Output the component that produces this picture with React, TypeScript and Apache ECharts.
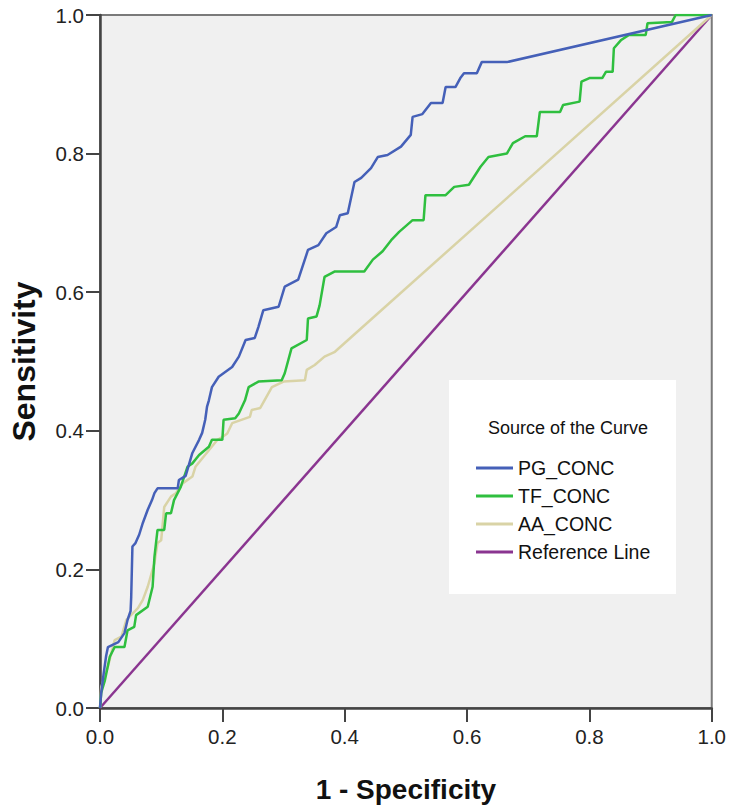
import React, { useEffect, useRef } from "react";
import * as echarts from "echarts";

const seriesNames = ["PG_CONC", "TF_CONC", "AA_CONC", "Reference Line"];
const seriesColors = ["#4560b8", "#2fbf3f", "#d9d3a6", "#8a3590"];

const pgConc: number[][] = [
  [0, 0], [0.002, 0.022], [0.006, 0.05], [0.01, 0.075], [0.013, 0.088], [0.03, 0.095],
  [0.04, 0.108], [0.045, 0.127], [0.05, 0.14], [0.051, 0.16], [0.053, 0.233], [0.058, 0.238],
  [0.064, 0.25], [0.07, 0.267], [0.078, 0.286], [0.085, 0.3], [0.089, 0.31], [0.094, 0.317],
  [0.127, 0.317], [0.129, 0.329], [0.14, 0.335], [0.146, 0.353], [0.151, 0.368], [0.162, 0.387],
  [0.167, 0.397], [0.172, 0.416], [0.175, 0.435], [0.178, 0.444], [0.183, 0.463], [0.194, 0.478],
  [0.216, 0.492], [0.227, 0.507], [0.238, 0.531], [0.253, 0.534], [0.259, 0.55], [0.267, 0.574],
  [0.292, 0.579], [0.302, 0.608], [0.324, 0.618], [0.34, 0.661], [0.357, 0.668], [0.37, 0.685],
  [0.386, 0.694], [0.392, 0.711], [0.405, 0.714], [0.416, 0.759], [0.427, 0.765], [0.443, 0.779],
  [0.454, 0.795], [0.47, 0.798], [0.492, 0.81], [0.508, 0.827], [0.511, 0.853], [0.527, 0.857],
  [0.541, 0.873], [0.56, 0.873], [0.565, 0.896], [0.581, 0.896], [0.589, 0.909], [0.595, 0.916],
  [0.616, 0.916], [0.624, 0.932], [0.665, 0.932], [1, 1],
];

const tfConc: number[][] = [
  [0, 0], [0.002, 0.022], [0.008, 0.04], [0.016, 0.074], [0.024, 0.088], [0.04, 0.088],
  [0.045, 0.112], [0.056, 0.117], [0.059, 0.134], [0.078, 0.146], [0.086, 0.175], [0.089, 0.218],
  [0.094, 0.257], [0.105, 0.257], [0.108, 0.281], [0.116, 0.281], [0.121, 0.3], [0.132, 0.319],
  [0.143, 0.348], [0.151, 0.353], [0.162, 0.365], [0.178, 0.377], [0.183, 0.387], [0.2, 0.387],
  [0.202, 0.416], [0.221, 0.418], [0.227, 0.425], [0.237, 0.444], [0.243, 0.463], [0.259, 0.471],
  [0.297, 0.473], [0.302, 0.483], [0.313, 0.519], [0.338, 0.531], [0.34, 0.562], [0.354, 0.565],
  [0.359, 0.581], [0.367, 0.622], [0.384, 0.63], [0.432, 0.63], [0.446, 0.647], [0.462, 0.659],
  [0.476, 0.675], [0.489, 0.687], [0.511, 0.704], [0.529, 0.704], [0.532, 0.74], [0.565, 0.74],
  [0.579, 0.752], [0.603, 0.755], [0.622, 0.781], [0.635, 0.795], [0.665, 0.8], [0.675, 0.815],
  [0.695, 0.825], [0.714, 0.825], [0.719, 0.86], [0.752, 0.86], [0.757, 0.87], [0.784, 0.875],
  [0.787, 0.904], [0.8, 0.909], [0.821, 0.909], [0.827, 0.918], [0.838, 0.918], [0.84, 0.952],
  [0.852, 0.964], [0.864, 0.971], [0.892, 0.971], [0.895, 0.988], [0.935, 0.99], [0.941, 1],
  [1, 1],
];

const aaConc: number[][] = [
  [0, 0], [0.002, 0.03], [0.013, 0.06], [0.024, 0.098], [0.035, 0.103], [0.043, 0.127],
  [0.062, 0.144], [0.07, 0.156], [0.078, 0.175], [0.089, 0.209], [0.094, 0.238], [0.1, 0.242],
  [0.105, 0.29], [0.116, 0.305], [0.124, 0.31], [0.135, 0.324], [0.151, 0.334], [0.156, 0.348],
  [0.167, 0.36], [0.192, 0.387], [0.2, 0.391], [0.208, 0.396], [0.216, 0.411], [0.245, 0.42],
  [0.248, 0.43], [0.262, 0.433], [0.281, 0.463], [0.3, 0.471], [0.335, 0.473], [0.338, 0.488],
  [0.351, 0.495], [0.367, 0.507], [0.384, 0.514], [1, 1],
];

const referenceLine: number[][] = [
  [0, 0], [1, 1],
];

const seriesData = [pgConc, tfConc, aaConc, referenceLine];

const xTitle = "1 - Specificity";
const yTitle = "Sensitivity";
const legendTitle = "Source of the Curve";

export default function App() {
  const ref = useRef<HTMLDivElement>(null);
  useEffect(() => {
    if (!ref.current) return;
    const chart = echarts.init(ref.current, undefined, { renderer: "svg" });
    const font = "Liberation Sans, Arial, sans-serif";
    chart.setOption({
      animation: false,
      textStyle: { fontFamily: font },
      grid: {
        left: 97,
        right: 16,
        top: 15,
        bottom: 103,
        show: true,
        backgroundColor: "#f0f0f0",
        borderColor: "#7a7a7a",
        borderWidth: 2,
      },
      xAxis: {
        type: "value",
        min: 0,
        max: 1,
        interval: 0.2,
        name: xTitle,
        nameLocation: "middle",
        nameGap: 67,
        nameTextStyle: { fontSize: 28, fontWeight: "bold", color: "#111", fontFamily: font },
        axisLine: { show: true, onZero: false, lineStyle: { color: "#444", width: 2.5 } },
        axisTick: { show: true, length: 14, lineStyle: { color: "#444", width: 2 } },
        axisLabel: {
          margin: 18,
          fontSize: 20.5,
          color: "#222",
          fontFamily: font,
          formatter: (v: number) => v.toFixed(1),
        },
        splitLine: { show: false },
      },
      yAxis: {
        type: "value",
        min: 0,
        max: 1,
        interval: 0.2,
        name: yTitle,
        nameLocation: "middle",
        nameGap: 60,
        nameTextStyle: { fontSize: 32, fontWeight: "bold", color: "#111", fontFamily: font },
        axisLine: { show: true, onZero: false, lineStyle: { color: "#444", width: 2.5 } },
        axisTick: { show: true, length: 14, lineStyle: { color: "#444", width: 2 } },
        axisLabel: {
          margin: 16,
          fontSize: 20.5,
          color: "#222",
          fontFamily: font,
          formatter: (v: number) => v.toFixed(1),
        },
        splitLine: { show: false },
      },
      legend: {
        orient: "vertical",
        left: 476,
        top: 454,
        icon: "rect",
        itemWidth: 37,
        itemHeight: 3,
        itemGap: 0,
        padding: 0,
        data: seriesNames,
        textStyle: { fontSize: 19.5, color: "#111", lineHeight: 28, fontFamily: font },
      },
      graphic: [
        {
          type: "rect",
          left: 449,
          top: 380,
          z: 0,
          zlevel: 0,
          shape: { width: 227, height: 214 },
          style: { fill: "#ffffff" },
        },
        {
          type: "text",
          x: 568,
          y: 428,
          z: 10,
          style: {
            text: legendTitle,
            fill: "#111",
            fontSize: 18,
            fontFamily: font,
            align: "center",
            verticalAlign: "middle",
          },
        },
      ],
      series: seriesNames.map((name, i) => ({
        name,
        type: "line",
        data: seriesData[i],
        showSymbol: false,
        symbol: "none",
        z: 5 - i,
        lineStyle: { color: seriesColors[i], width: 2.5 },
        itemStyle: { color: seriesColors[i] },
      })),
    });
    return () => chart.dispose();
  }, []);
  return <div ref={ref} style={{ width: 729, height: 811, position: "absolute", left: 0, top: 0 }} />;
}
